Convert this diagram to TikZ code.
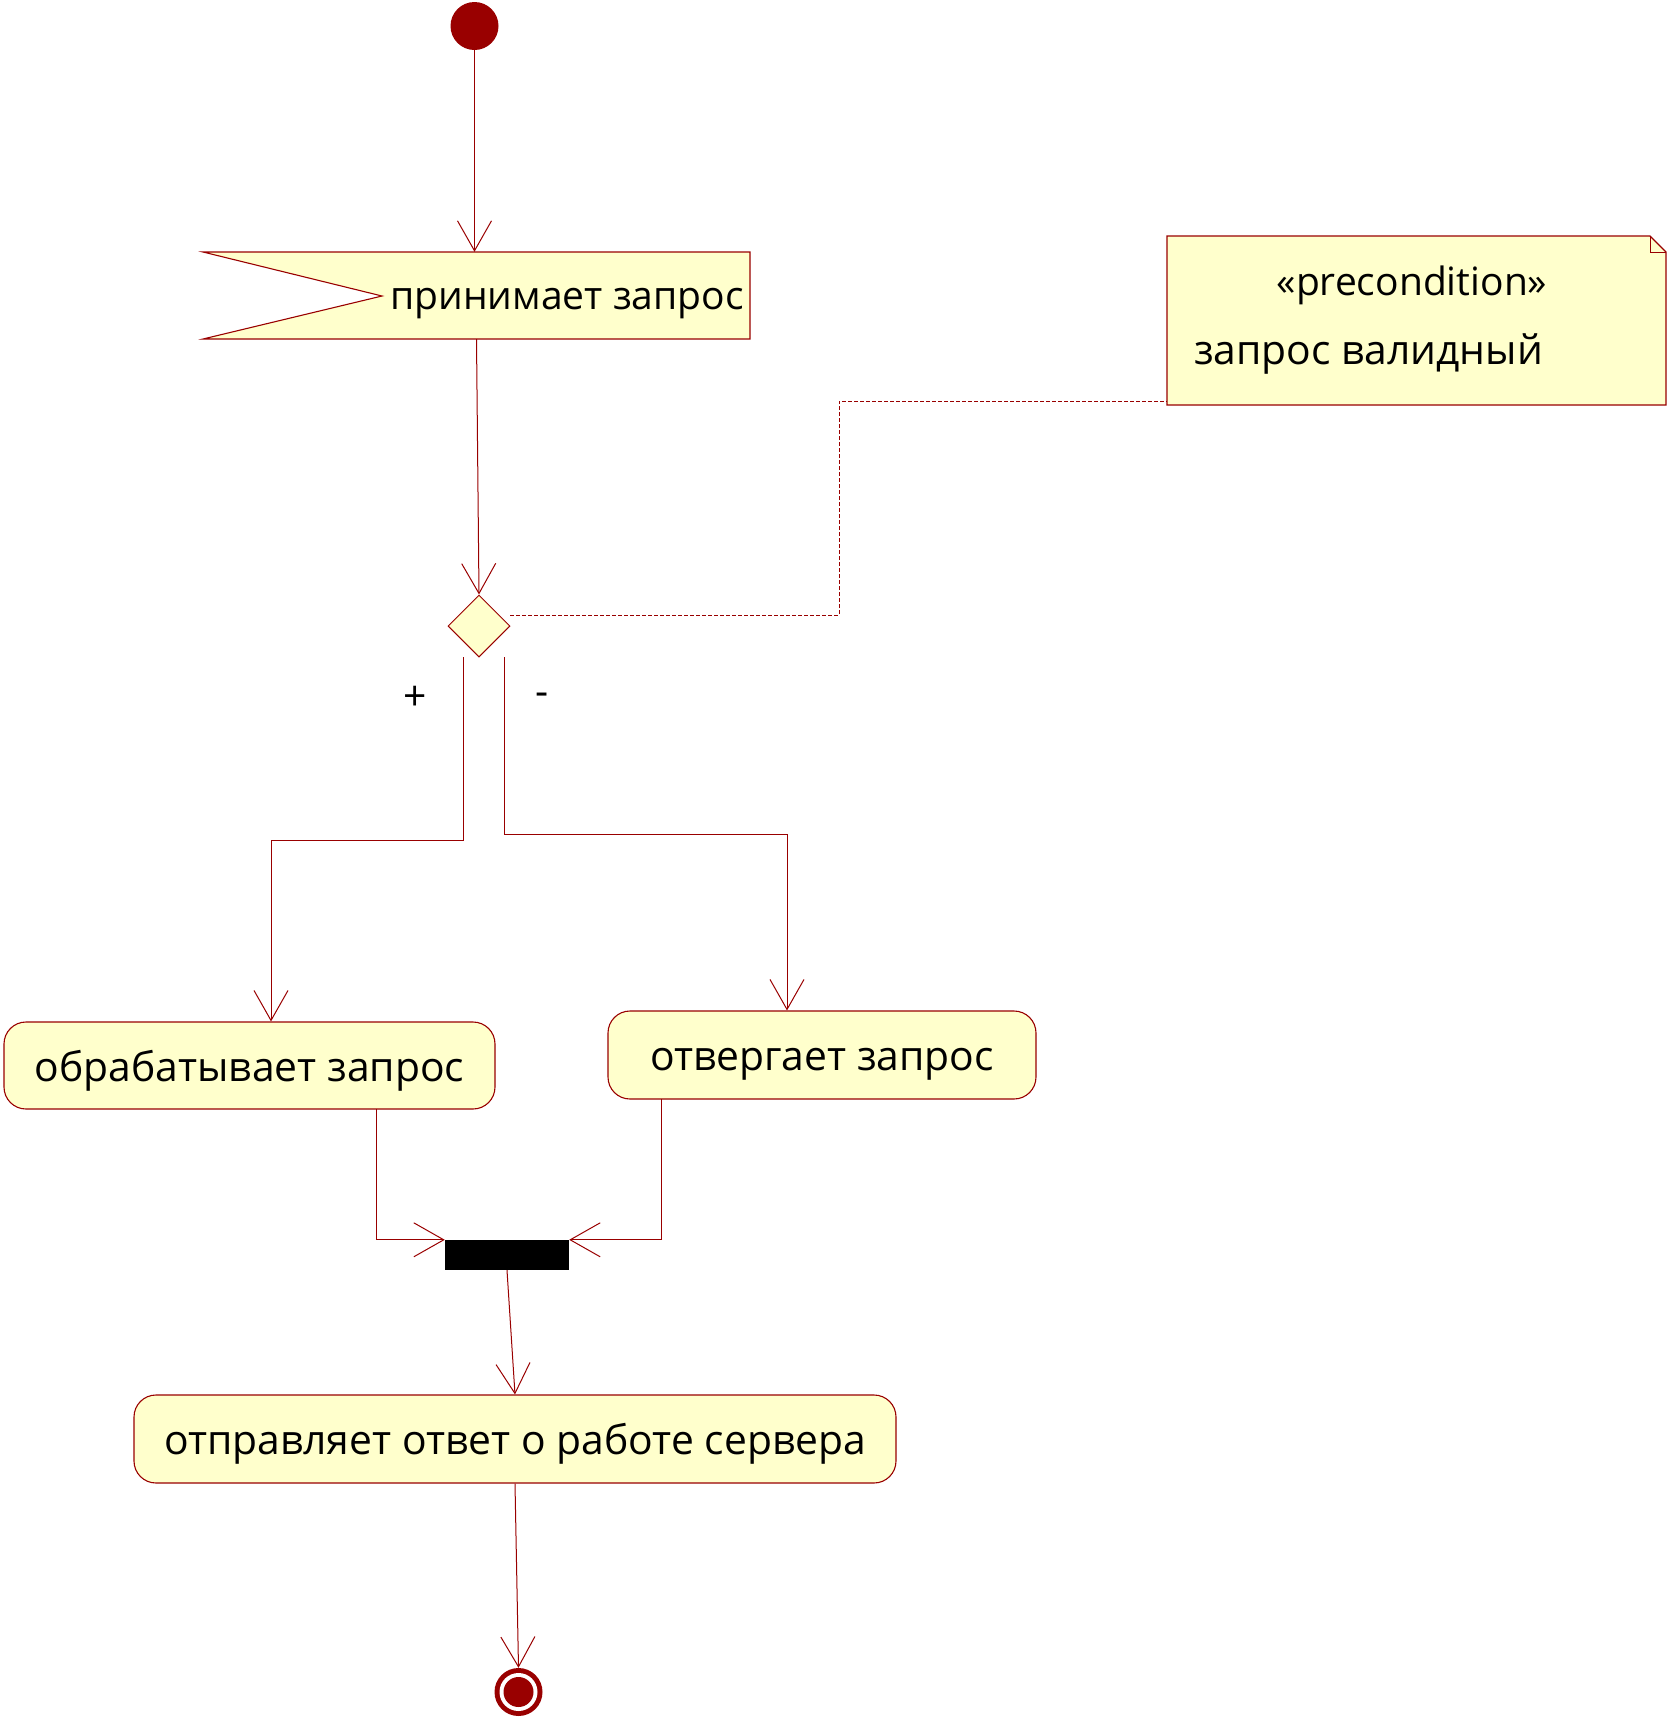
\documentclass[tikz,border=0pt]{standalone}
\usepackage{fontspec}
\setmainfont{Open Sans}
\usetikzlibrary{arrows.meta,shapes.geometric}
\definecolor{lc}{RGB}{153,0,0}
\definecolor{fy}{RGB}{255,255,204}
\begin{document}
\begin{tikzpicture}[x=1pt,y=-1pt,
  txt/.style={font=\fontsize{40.8}{46}\selectfont, text=black},
  stxt/.style={font=\fontsize{39}{44}\selectfont, text=black},
  flow/.style={draw=lc, line width=1pt, -{Straight Barb[length=30pt,width=34pt,line width=1pt]}},
  act/.style={draw=lc, fill=fy, rounded corners=22pt, line width=1.1pt, txt, inner sep=0pt, text height=31pt, text depth=0pt},
  notelink/.style={draw=lc, line width=1pt, dash pattern=on 4pt off 2pt}]
\useasboundingbox (0,0) rectangle (1669,1719);

% initial node
\node[circle, fill=lc, minimum size=48pt, inner sep=0pt] (init) at (474.5,26) {};

% accept event
\node[minimum width=547pt, minimum height=87pt, inner sep=0pt] (acc) at (476.5,295.5) {};
\filldraw[draw=lc, fill=fy, line width=1.1pt] (203,252) -- (750,252) -- (750,339) -- (203,339) -- (382,296) -- cycle;
\node[stxt, text height=26pt, text depth=0pt, inner sep=0pt] (acctext) at (567,296) {принимает запрос};

% decision
\node[diamond, draw=lc, fill=fy, line width=1pt, minimum width=62pt, minimum height=62pt, inner sep=0pt] (dia) at (479,626) {};

% note
\node[minimum width=499pt, minimum height=169pt, inner sep=0pt] (note) at (1416.5,320.5) {};
\filldraw[draw=lc, fill=fy, line width=1.1pt] (1167,236) -- (1650,236) -- (1666,252) -- (1666,405) -- (1167,405) -- cycle;
\draw[lc, line width=1pt] (1650,236) -- (1650,252) -- (1666,252);
\node[stxt, anchor=base, inner sep=0pt] (pre) at (1412,295) {«precondition»};
\node[txt, anchor=base west, inner sep=0pt] (valid) at (1194,364) {запрос валидный};

% actions
\node[act, minimum width=491pt, minimum height=87pt] (act1) at (249.5,1065.5) {обрабатывает запрос};
\node[act, minimum width=428pt, minimum height=88pt] (act2) at (822,1055) {отвергает запрос};
\node[act, minimum width=762pt, minimum height=88pt] (act3) at (515,1439) {отправляет ответ о работе сервера};

% join bar
\node[fill=black, minimum width=124pt, minimum height=30pt, inner sep=0pt] (bar) at (507,1255) {};

% final node
\node[circle, fill=lc, minimum size=48pt, inner sep=0pt] (fin) at (518.5,1692) {};
\fill[white] (fin.center) circle (19pt);
\fill[lc] (fin.center) circle (15pt);

% guard labels
\node[txt] (plus) at (415,698) {+};
\node[txt] (minus) at (542,699) {-};

% connectors
\draw[flow] (init.south) -- (init.south |- acc.north);
\draw[flow] (acc.south) -- (dia.north);

\coordinate (bl) at (463,657);
\coordinate (blk) at (271,840);
\draw[flow] (bl) |- (blk) -- (blk |- act1.north);
\coordinate (br) at (504,657);
\coordinate (brk) at (787,834);
\draw[flow] (br) |- (brk) -- (brk |- act2.north);

\coordinate (j1) at (376,1109);
\draw[flow] (j1) |- (bar.north west);
\coordinate (j2) at (661,1099);
\draw[flow] (j2) |- (bar.north east);

\draw[flow] (bar.south) -- (act3.north);
\draw[flow] (act3.south) -- (fin.north);

\coordinate (d1) at (510,615);
\coordinate (d2) at (1167,401);
\draw[notelink] (d1) -| (839,401) -- (d2);
\end{tikzpicture}
\end{document}
